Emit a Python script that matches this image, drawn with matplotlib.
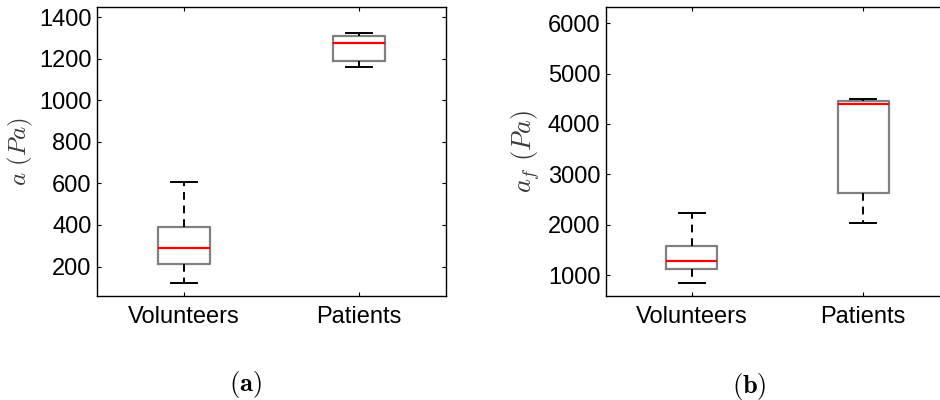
import matplotlib
matplotlib.use("Agg")
import matplotlib.pyplot as plt

plt.rcParams["font.family"] = ["Liberation Sans", "DejaVu Sans"]
plt.rcParams["mathtext.fontset"] = "cm"

groups = ["Volunteers", "Patients"]

# panel (a): a (Pa)
a_whislo = [120, 1161]
a_q1 = [210, 1190]
a_med = [287, 1275]
a_q3 = [390, 1310]
a_whishi = [608, 1323]

# panel (b): a_f (Pa)
af_whislo = [834, 2040]
af_q1 = [1112, 2636]
af_med = [1285, 4397]
af_q3 = [1576, 4457]
af_whishi = [2225, 4490]


def make_stats(lo, q1, med, q3, hi):
    out = []
    for i in range(len(groups)):
        out.append(dict(whislo=lo[i], q1=q1[i], med=med[i], q3=q3[i],
                        whishi=hi[i], fliers=[], label=groups[i]))
    return out


def draw(ax, stats, ylabel, ylim, yticks, labx, labsize):
    ax.bxp(stats, positions=[1, 2], widths=0.3, showfliers=False,
           boxprops=dict(color="#808080", linewidth=1.6),
           medianprops=dict(color="red", linewidth=1.6),
           whiskerprops=dict(color="black", linewidth=1.4, linestyle=(0, (4, 3))),
           capprops=dict(color="black", linewidth=1.4),
           capwidths=0.15)
    ax.set_xlim(0.5, 2.5)
    ax.set_ylim(*ylim)
    ax.set_yticks(yticks)
    ax.set_xticks([1, 2])
    ax.set_xticklabels(groups, fontsize=17)
    ax.tick_params(direction="in", length=3, top=True, right=True,
                   labelsize=17, pad=4)
    ax.tick_params(axis="x", pad=7)
    for s in ax.spines.values():
        s.set_linewidth(1.0)
    ax.set_ylabel(ylabel, fontsize=labsize, color="#3a3a3a")
    # label coords give the right-hand edge of the rotated text
    ax.yaxis.set_label_coords(labx, 0.5)


fig = plt.figure(figsize=(9.4, 4.0), dpi=100)
ax1 = fig.add_axes([0.1032, 0.26, 0.3713, 0.7218])
ax2 = fig.add_axes([0.6447, 0.26, 0.3649, 0.7218])

draw(ax1, make_stats(a_whislo, a_q1, a_med, a_q3, a_whishi),
     r"$a\ (Pa)$", (58, 1448), [200, 400, 600, 800, 1000, 1200, 1400],
     -0.178, 18)
draw(ax2, make_stats(af_whislo, af_q1, af_med, af_q3, af_whishi),
     r"$a_f\ (Pa)$", (583, 6318), [1000, 2000, 3000, 4000, 5000, 6000],
     -0.186, 19)

fig.text(245 / 940, 1 - 384 / 400, r"$\mathbf{(a)}$", fontsize=19,
         ha="center", va="center")
fig.text(749 / 940, 1 - 386 / 400, r"$\mathbf{(b)}$", fontsize=19,
         ha="center", va="center")

fig.savefig("out.png", dpi=100)
